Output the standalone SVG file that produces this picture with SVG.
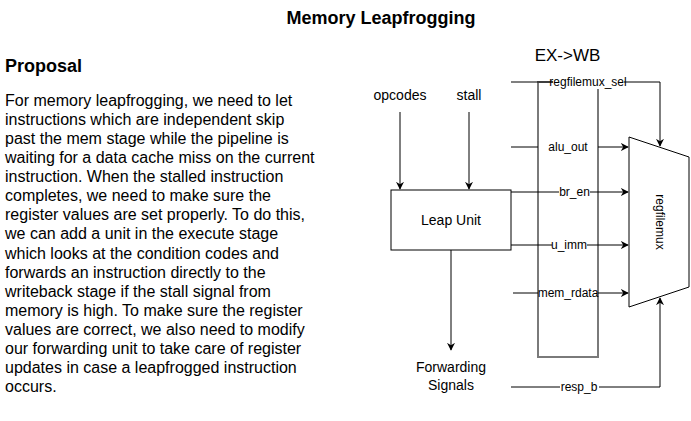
<svg xmlns="http://www.w3.org/2000/svg" width="691" height="421" viewBox="0 0 691 421">
<style>
text{font-family:"Liberation Sans",Arial,sans-serif;fill:#000}
.t14{font-size:14px;text-anchor:middle}
.t12{font-size:12px;text-anchor:middle}
.w{stroke:#000;stroke-width:1;fill:none}
.bg{fill:#fff;stroke:none}
</style>
<defs>
<marker id="ah" viewBox="0 0 10 10" refX="9" refY="5" markerWidth="8" markerHeight="8" markerUnits="userSpaceOnUse" orient="auto">
<path d="M0,0 L10,5 L0,10 L3,5 Z" fill="#000"/>
</marker>
</defs>
<rect width="691" height="421" fill="#fff"/>
<text x="381" y="24" style="font-size:18px;font-weight:bold;text-anchor:middle">Memory Leapfrogging</text>
<text x="5" y="72" style="font-size:18px;font-weight:bold">Proposal</text>
<text x="5" y="106" style="font-size:16px">
<tspan x="5" y="106">For memory leapfrogging, we need to let</tspan>
<tspan x="5" y="125.07">instructions which are independent skip</tspan>
<tspan x="5" y="144.14">past the mem stage while the pipeline is</tspan>
<tspan x="5" y="163.21">waiting for a data cache miss on the current</tspan>
<tspan x="5" y="182.28">instruction. When the stalled instruction</tspan>
<tspan x="5" y="201.35">completes, we need to make sure the</tspan>
<tspan x="5" y="220.42">register values are set properly. To do this,</tspan>
<tspan x="5" y="239.49">we can add a unit in the execute stage</tspan>
<tspan x="5" y="258.56">which looks at the condition codes and</tspan>
<tspan x="5" y="277.63">forwards an instruction directly to the</tspan>
<tspan x="5" y="296.7">writeback stage if the stall signal from</tspan>
<tspan x="5" y="315.77">memory is high. To make sure the register</tspan>
<tspan x="5" y="334.84">values are correct, we also need to modify</tspan>
<tspan x="5" y="353.91">our forwarding unit to take care of register</tspan>
<tspan x="5" y="372.98">updates in case a leapfrogged instruction</tspan>
<tspan x="5" y="392.05">occurs.</tspan>
</text>
<g id="exwb">
<text x="567.5" y="61" style="font-size:17px;text-anchor:middle">EX-&gt;WB</text>
<rect x="538" y="82" width="60" height="275" fill="none" stroke="#7a7a7a" stroke-width="2"/>
</g>
<g id="inputs">
<text class="t14" x="400" y="100">opcodes</text>
<text class="t14" x="469" y="100">stall</text>
</g>
<g id="leapunit">
<rect x="391" y="190" width="120" height="60" fill="#fff" stroke="#000"/>
<text class="t14" x="451" y="225">Leap Unit</text>
</g>
<g id="forwarding">
<text class="t14" x="451" y="372">Forwarding</text>
<text class="t14" x="451" y="390">Signals</text>
</g>
<g id="regfilemux">
<path d="M629,137 L689,157 L689,287 L629,307 Z" fill="#fff" stroke="#000"/>
<text class="t12" transform="translate(656,222) rotate(90)">regfilemux</text>
</g>
<g id="connectors">
<path class="w" d="M400,112 V189" marker-end="url(#ah)"/>
<path class="w" d="M469,112 V189" marker-end="url(#ah)"/>
<path class="w" d="M451,250 V350" marker-end="url(#ah)"/>
<path class="w" d="M511,82 H660 V146" marker-end="url(#ah)"/>
<path class="w" d="M511,147 H538"/>
<path class="w" d="M598,147 H628" marker-end="url(#ah)"/>
<path class="w" d="M511,192 H628" marker-end="url(#ah)"/>
<path class="w" d="M511,245 H628" marker-end="url(#ah)"/>
<path class="w" d="M513,293 H538"/>
<path class="w" d="M598,293 H628" marker-end="url(#ah)"/>
<path class="w" d="M511,387 H660 V298" marker-end="url(#ah)"/>
<rect class="bg" x="553" y="76" width="71" height="13"/>
<text class="t12" x="588" y="86">regfilemux_sel</text>
<text class="t12" x="568" y="151">alu_out</text>
<rect class="bg" x="559" y="186" width="31" height="13"/>
<text class="t12" x="574.5" y="196">br_en</text>
<rect class="bg" x="552" y="239" width="35" height="13"/>
<text class="t12" x="569" y="249">u_imm</text>
<text class="t12" x="568" y="297">mem_rdata</text>
<rect class="bg" x="560" y="381" width="39" height="13"/>
<text class="t12" x="579" y="391">resp_b</text>
</g>
</svg>
